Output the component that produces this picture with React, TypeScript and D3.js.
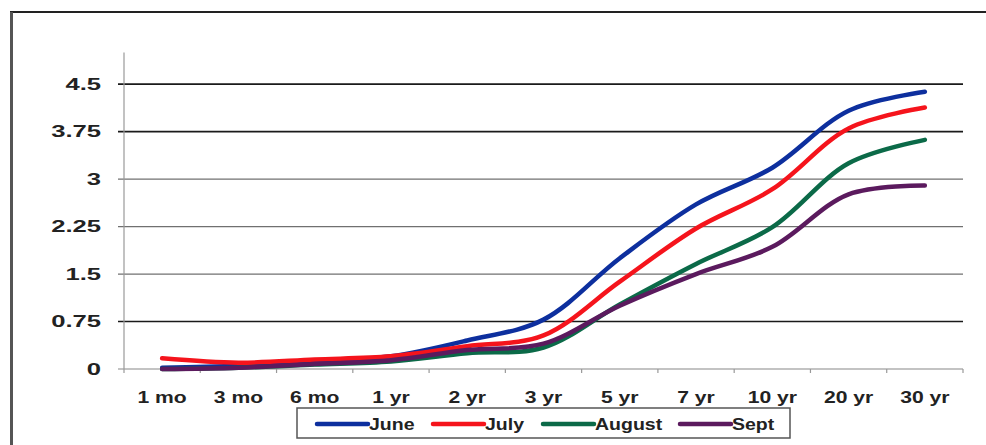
import * as d3 from 'd3'

const categories = ['1 mo', '3 mo', '6 mo', '1 yr', '2 yr', '3 yr', '5 yr', '7 yr', '10 yr', '20 yr', '30 yr']
const yTicks = [0, 0.75, 1.5, 2.25, 3, 3.75, 4.5]
const yTickLabels = ['0', '0.75', '1.5', '2.25', '3', '3.75', '4.5']

const june = [0.02, 0.05, 0.12, 0.2, 0.45, 0.78, 1.75, 2.6, 3.18, 4.08, 4.38]
const july = [0.17, 0.1, 0.15, 0.2, 0.36, 0.53, 1.38, 2.22, 2.84, 3.8, 4.13]
const august = [0.0, 0.02, 0.07, 0.12, 0.25, 0.34, 1.02, 1.66, 2.24, 3.25, 3.62]
const sept = [0.0, 0.02, 0.08, 0.14, 0.3, 0.4, 1.0, 1.5, 1.93, 2.76, 2.9]

const series = [
  { name: 'June', values: june, color: '#0d2f9e' },
  { name: 'July', values: july, color: '#f5141c' },
  { name: 'August', values: august, color: '#0b6a48' },
  { name: 'Sept', values: sept, color: '#5b1a5e' },
]

const W = 986
const H = 445
const font = '"Liberation Sans", Arial, sans-serif'

export default function App() {
  const x = d3.scaleBand<string>().domain(categories).range([124, 963]).padding(0)
  const y = d3.scaleLinear().domain([0, 5]).range([369, 52.5])
  const cx = (c: string) => (x(c) || 0) + x.bandwidth() / 2

  const line = d3
    .line<number>()
    .x((_, i) => cx(categories[i]))
    .y((d) => y(d))
    .curve(d3.curveCatmullRom.alpha(0.5))

  // darker grid rows look heavier in the scan
  const darkRows = [0.75, 3.75, 4.5]

  const legendX = 297
  const legendItems = [317, 433, 543, 680]

  return (
    <svg
      width={W}
      height={H}
      style={{ display: 'block', position: 'absolute', left: 0, top: 0, background: '#fff' }}
    >
      {/* outer frame */}
      <line x1={10} x2={986} y1={12} y2={12} stroke="#222" strokeWidth={1.8} />
      <line x1={11.5} x2={11.5} y1={12} y2={445} stroke="#555" strokeWidth={3} />

      {/* grid */}
      {yTicks.map((t) => (
        <line
          key={t}
          x1={118}
          x2={963}
          y1={y(t)}
          y2={y(t)}
          stroke={darkRows.includes(t) ? '#1a1a1a' : t === 0 ? '#888' : '#707070'}
          strokeWidth={darkRows.includes(t) ? 1.6 : 1.2}
        />
      ))}

      {/* y axis */}
      <line x1={124} x2={124} y1={y(5)} y2={y(0) + 4} stroke="#999" strokeWidth={1.2} />
      {yTicks.map((t, i) => (
        <text
          key={t}
          transform={`translate(101,${y(t)}) scale(1.6,1)`}
          textAnchor="end"
          dy="0.36em"
          fontFamily={font}
          fontWeight="bold"
          fontSize={16}
          fill="#222"
        >
          {yTickLabels[i]}
        </text>
      ))}

      {/* x ticks */}
      {categories.slice(1).map((c) => (
        <line key={c} x1={x(c)} x2={x(c)} y1={y(0)} y2={y(0) + 4} stroke="#999" strokeWidth={1.2} />
      ))}
      <line x1={963} x2={963} y1={y(0)} y2={y(0) + 4} stroke="#999" strokeWidth={1.2} />
      {categories.map((c) => (
        <text
          key={c}
          transform={`translate(${cx(c)},397) scale(1.32,1)`}
          textAnchor="middle"
          dy="0.36em"
          fontFamily={font}
          fontWeight="bold"
          fontSize={16}
          fill="#222"
        >
          {c}
        </text>
      ))}

      {/* lines */}
      {series.map((s) => (
        <path
          key={s.name}
          d={line(s.values) || ''}
          fill="none"
          stroke={s.color}
          strokeWidth={4.5}
          strokeLinecap="round"
          strokeLinejoin="round"
        />
      ))}

      {/* legend */}
      <rect x={legendX} y={408} width={493} height={30} fill="#fff" stroke="#555" strokeWidth={1.5} />
      {series.map((s, i) => (
        <g key={s.name}>
          <line
            x1={legendItems[i]}
            x2={legendItems[i] + 51}
            y1={424}
            y2={424}
            stroke={s.color}
            strokeWidth={4.5}
            strokeLinecap="round"
          />
          <text
            transform={`translate(${legendItems[i] + 52},424) scale(1.22,1)`}
            dy="0.36em"
            fontFamily={font}
            fontWeight="bold"
            fontSize={16}
            fill="#222"
          >
            {s.name}
          </text>
        </g>
      ))}
    </svg>
  )
}
